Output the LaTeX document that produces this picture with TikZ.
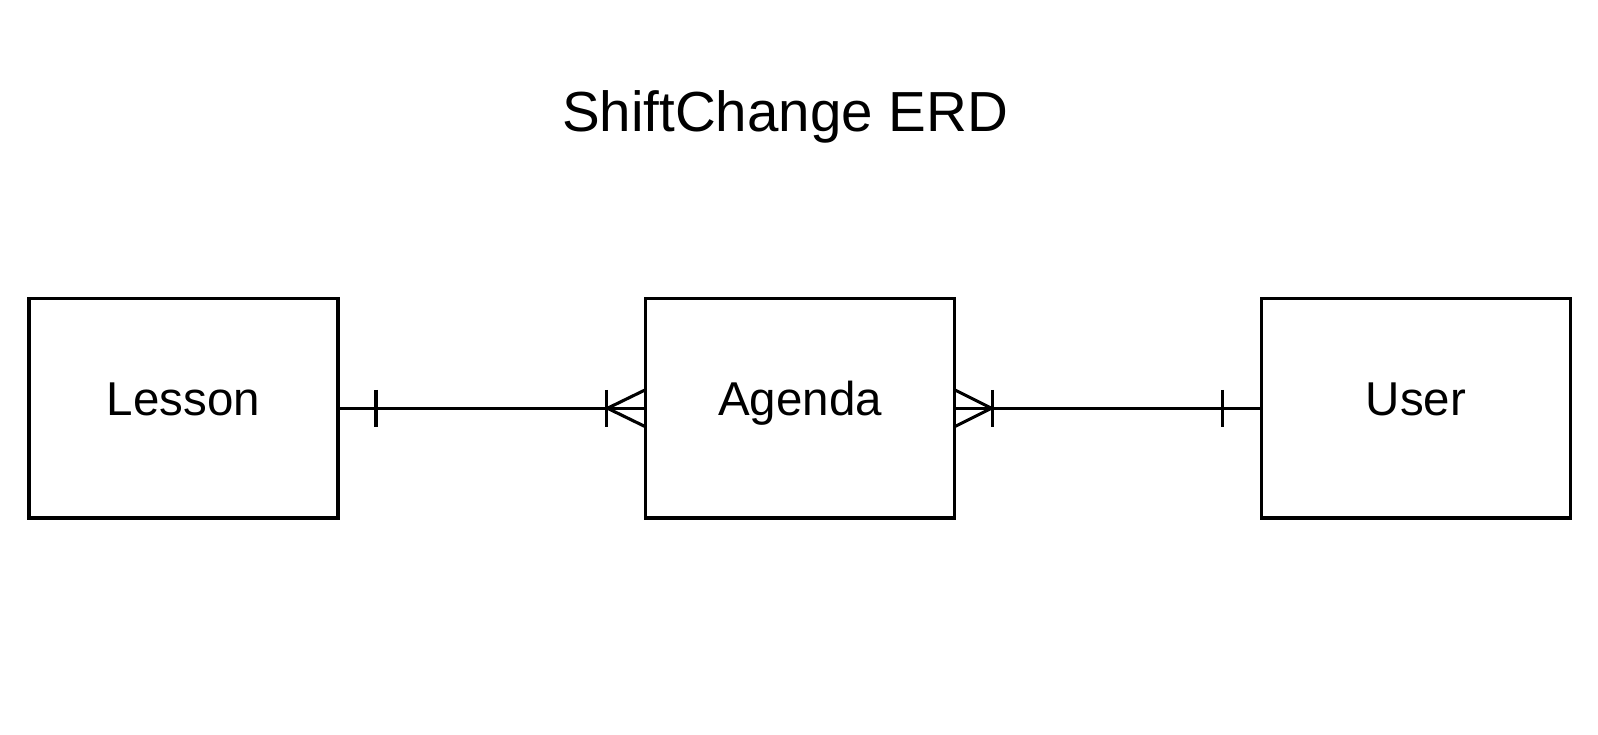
\documentclass[tikz,border=0pt]{standalone}
\usepackage{fontspec}
\setmainfont{Liberation Sans}
\usetikzlibrary{calc}
\begin{document}
\begin{tikzpicture}[x=1pt,y=-1pt,
  entbox/.style={draw=black,line width=3.2pt,minimum width=309pt,minimum height=219.5pt,inner sep=0pt,outer sep=0pt},
  lbl/.style={font=\fontsize{47.5}{50}\selectfont,anchor=base,inner sep=0pt},
  conn/.style={line width=3.1pt,black}]
\useasboundingbox (0,0) rectangle (1598,734);
\node[lbl,font=\fontsize{56.5}{60}\selectfont] (title) at (785,131) {ShiftChange ERD};
\node[entbox] (lesson) at (183.5,408.25) {};
\node[entbox] (agenda) at (800,408.25) {};
\node[entbox] (user) at (1416,408.25) {};
\node[lbl] (tl) at (lesson.center |- 0,415) {Lesson};
\node[lbl] (ta) at (agenda.center |- 0,415) {Agenda};
\node[lbl] (tu) at (user.center |- 0,415) {User};
% Lesson -- Agenda
\draw[conn] (lesson.east) -- (agenda.west);
\draw[conn] ($(lesson.east)+(38,-18.5)$) -- ($(lesson.east)+(38,18.5)$);
\draw[conn] ($(agenda.west)+(-39,-18.5)$) -- ($(agenda.west)+(-39,18.5)$);
\draw[conn] ($(agenda.west)+(0,-18.5)$) -- ($(agenda.west)+(-38,0)$) -- ($(agenda.west)+(0,18.5)$);
% Agenda -- User
\draw[conn] (agenda.east) -- (user.west);
\draw[conn] ($(agenda.east)+(38,-18.5)$) -- ($(agenda.east)+(38,18.5)$);
\draw[conn] ($(agenda.east)+(0,-18.5)$) -- ($(agenda.east)+(37,0)$) -- ($(agenda.east)+(0,18.5)$);
\draw[conn] ($(user.west)+(-39,-18.5)$) -- ($(user.west)+(-39,18.5)$);
\end{tikzpicture}
\end{document}
